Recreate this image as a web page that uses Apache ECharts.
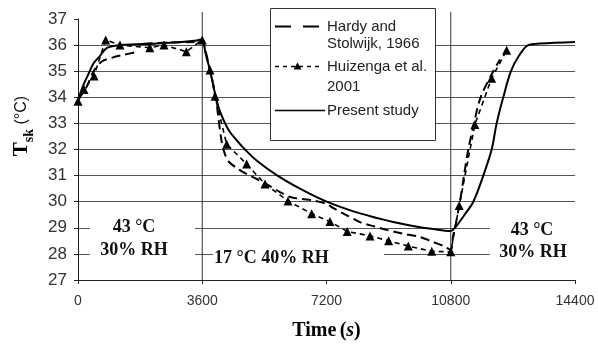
<!DOCTYPE html>
<html><head><meta charset="utf-8">
<script src="https://cdn.jsdelivr.net/npm/echarts@6/dist/echarts.min.js"></script>
<style>html,body{margin:0;padding:0;background:#fff}#c{width:598px;height:346px}</style>
</head><body><div id="c"></div>
<script>
// ---- data (time in s, skin temperature in °C) ----
const presentTime = [0,150,319,450,608,840,1246,2289,3000,3450,3600,3650,3720,3824,3990,4114,4354,4600,4838,5200,5780,6500,7205,8000,8750,9135,9705,10300,10800,10922,11200,11453,11742,11985,12130,12321,12544,12780,13045,13384,14400];
const presentTsk  = [33.9,34.45,34.94,35.3,35.54,35.89,36.0,36.06,36.12,36.18,36.22,36.0,35.55,35.05,34.03,33.46,32.77,32.35,32.0,31.55,31.0,30.45,30.0,29.62,29.35,29.22,29.07,28.95,28.88,29.0,29.5,30.0,31.0,32.0,33.0,34.0,35.0,35.6,36.0,36.06,36.12];

const hardyTime = [0,251,450,700,1000,1300,1651,1760,1900,2600,3400,3600,3700,3824,3990,4060,4163,4250,4354,4644,4900,5180,5560,5850,6150,6500,6800,7200,7400,7800,8200,8600,9000,9400,9900,10300,10600,10800,10870,10922,11067,11183,11308,11472,11666,12032,12226];
const hardyTsk  = [33.9,34.4,35.0,35.38,35.52,35.62,35.72,null,36.05,36.1,36.12,36.15,35.75,35.05,34.03,33.3,32.3,31.85,31.55,31.25,31.05,30.87,30.6,30.37,30.18,30.1,30.05,29.92,29.75,29.47,29.2,29.05,28.9,28.78,28.65,28.45,28.3,28.15,28.7,29.0,30.0,31.0,32.0,33.0,34.0,35.0,35.45];

const huizengaTime = [0,174,463,802,1217,2080,2490,3140,3600,3824,3970,4308,4887,5418,6084,6770,7300,7800,8460,9000,9570,10250,10800,11045,11500,11984,12419];
const huizengaTsk  = [33.85,34.3,34.82,36.2,36.0,35.9,36.0,35.75,36.2,35.05,34.04,32.2,31.44,30.68,30.03,29.54,29.24,28.86,28.69,28.5,28.3,28.1,28.08,29.85,32.96,34.73,35.8];

const phaseBoundaries = [3600, 10800];
const seriesNames = ['Hardy and Stolwijk, 1966', 'Huizenga et al. 2001', 'Present study'];
const legendLines = [['Hardy and', 'Stolwijk, 1966'], ['Huizenga et al.', '2001'], ['Present study']];
const phaseLabels = [['43 °C', '30% RH'], ['17 °C 40% RH'], ['43 °C', '30% RH']];

function pairs(t, v) { return t.map((x, i) => [x, v[i] === null ? '-' : v[i]]); }

const SANS = 'Liberation Sans';
const SERIF = 'Liberation Serif';
const chart = echarts.init(document.getElementById('c'), null, {renderer: 'canvas'});

const serifBold = {fontFamily: SERIF, fontWeight: 'bold', fontSize: 18, fill: '#111'};
const sansText = {fontFamily: SANS, fontSize: 15, fill: '#222'};

// vertical phase separators built from the boundary list (gap between them)
const phaseLineData = [];
phaseBoundaries.forEach((b, i) => {
  if (i > 0) phaseLineData.push([b - 1, '-']);
  phaseLineData.push([b, 27], [b, 37.27]);
});

chart.setOption({
  animation: false,
  backgroundColor: '#fff',
  grid: {left: 78, right: 23, top: 19, bottom: 64},
  xAxis: {
    type: 'value', min: 0, max: 14400, interval: 3600,
    axisLine: {lineStyle: {color: '#222', width: 1}},
    axisTick: {show: true, length: 4, lineStyle: {color: '#222'}},
    axisLabel: {fontFamily: SANS, fontSize: 14, color: '#333', margin: 14, formatter: v => String(v)},
    splitLine: {show: false},
    name: '{b|Time} {p|(}{i|s}{p|)}',
    nameLocation: 'middle', nameGap: 41,
    nameTextStyle: {
      rich: {
        b: {fontFamily: SERIF, fontWeight: 'bold', fontSize: 20, color: '#000'},
        p: {fontFamily: SERIF, fontWeight: 'bold', fontSize: 20, color: '#000'},
        i: {fontFamily: SERIF, fontWeight: 'bold', fontStyle: 'italic', fontSize: 20, color: '#000'}
      }
    }
  },
  yAxis: {
    type: 'value', min: 27, max: 37, interval: 1,
    axisLine: {show: true, lineStyle: {color: '#222', width: 1}},
    axisTick: {show: true, length: 4, lineStyle: {color: '#222'}},
    axisLabel: {fontFamily: SANS, fontSize: 17, color: '#333', margin: 11},
    splitLine: {show: true, showMinLine: false, showMaxLine: false, lineStyle: {color: '#555', width: 1}},
    name: '{b|T}{s|sk}{n| (°C)}',
    nameLocation: 'middle', nameRotate: 90, nameGap: 42,
    nameTextStyle: {
      padding: [0, 0, 0, 47],
      rich: {
        b: {fontFamily: SERIF, fontWeight: 'bold', fontSize: 21, lineHeight: 28, color: '#000'},
        s: {fontFamily: SERIF, fontWeight: 'bold', fontSize: 14, verticalAlign: 'bottom', color: '#000'},
        n: {fontFamily: SANS, fontSize: 16, color: '#111'}
      }
    }
  },
  series: [
    {
      name: 'phase', type: 'line', data: phaseLineData, silent: true, clip: false,
      symbol: 'none', connectNulls: false,
      lineStyle: {color: '#333', width: 1}, z: 1
    },
    {
      name: seriesNames[0], type: 'line', data: pairs(hardyTime, hardyTsk),
      symbol: 'none', smooth: 0.3, connectNulls: false,
      lineStyle: {color: '#000', width: 2, type: [9, 5]}, z: 3
    },
    {
      name: seriesNames[1], type: 'line', data: pairs(huizengaTime, huizengaTsk),
      symbol: 'triangle', symbolSize: 9, showAllSymbol: true,
      itemStyle: {color: '#000'},
      lineStyle: {color: '#000', width: 1.6, type: [5, 4]}, z: 4
    },
    {
      name: seriesNames[2], type: 'line', data: pairs(presentTime, presentTsk),
      symbol: 'none', smooth: 0.35,
      lineStyle: {color: '#000', width: 2}, z: 5
    }
  ],
  graphic: [
    // legend box
    {type: 'rect', z: 100, shape: {x: 270.5, y: 8.5, width: 165, height: 132}, style: {fill: '#fff', stroke: '#333', lineWidth: 1}},
    {type: 'line', z: 101, shape: {x1: 275, y1: 26.5, x2: 321, y2: 26.5}, style: {stroke: '#000', lineWidth: 2, lineDash: [16, 12]}},
    {type: 'line', z: 101, shape: {x1: 275, y1: 66.5, x2: 320, y2: 66.5}, style: {stroke: '#000', lineWidth: 1.6, lineDash: [4, 4]}},
    {type: 'polygon', z: 102, shape: {points: [[297.5, 62.5], [301.5, 69.5], [293.5, 69.5]]}, style: {fill: '#000'}},
    {type: 'line', z: 101, shape: {x1: 275, y1: 110.5, x2: 325, y2: 110.5}, style: {stroke: '#000', lineWidth: 1.6}},
    {type: 'text', z: 101, x: 327, y: 26.7, style: Object.assign({text: legendLines[0][0], verticalAlign: 'middle'}, sansText)},
    {type: 'text', z: 101, x: 327, y: 43.5, style: Object.assign({text: legendLines[0][1], verticalAlign: 'middle'}, sansText)},
    {type: 'text', z: 101, x: 327, y: 66.7, style: Object.assign({text: legendLines[1][0], verticalAlign: 'middle'}, sansText)},
    {type: 'text', z: 101, x: 327, y: 86.5, style: Object.assign({text: legendLines[1][1], verticalAlign: 'middle'}, sansText)},
    {type: 'text', z: 101, x: 327, y: 110.5, style: Object.assign({text: legendLines[2][0], verticalAlign: 'middle'}, sansText)},
    // phase annotations
    {type: 'rect', z: 100, shape: {x: 90, y: 215, width: 105, height: 50}, style: {fill: '#fff'}},
    {type: 'text', z: 101, x: 134, y: 227, style: Object.assign({text: phaseLabels[0][0], align: 'center', verticalAlign: 'middle'}, serifBold)},
    {type: 'text', z: 101, x: 134, y: 250, style: Object.assign({text: phaseLabels[0][1], align: 'center', verticalAlign: 'middle'}, serifBold)},
    {type: 'rect', z: 100, shape: {x: 213, y: 244, width: 171, height: 28}, style: {fill: '#fff'}},
    {type: 'text', z: 101, x: 214, y: 258, style: Object.assign({text: phaseLabels[1][0], align: 'left', verticalAlign: 'middle'}, serifBold)},
    {type: 'rect', z: 100, shape: {x: 490, y: 217, width: 100, height: 47}, style: {fill: '#fff'}},
    {type: 'text', z: 101, x: 532, y: 230, style: Object.assign({text: phaseLabels[2][0], align: 'center', verticalAlign: 'middle'}, serifBold)},
    {type: 'text', z: 101, x: 533, y: 252, style: Object.assign({text: phaseLabels[2][1], align: 'center', verticalAlign: 'middle'}, serifBold)}
  ]
});
</script>
</body></html>
